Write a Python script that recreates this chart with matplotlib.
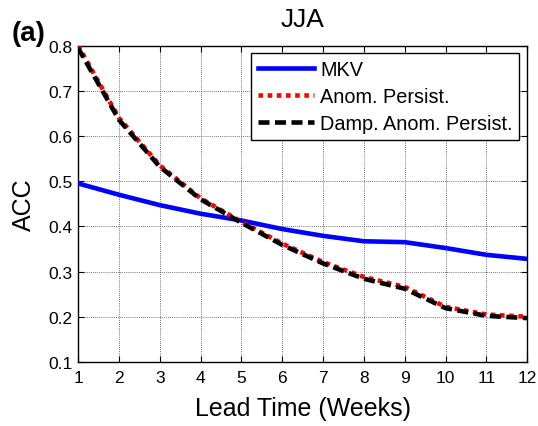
import matplotlib
matplotlib.use('Agg')
import matplotlib.pyplot as plt

plt.rcParams['font.family'] = ['Liberation Sans', 'DejaVu Sans']

lead = [1, 2, 3, 4, 5, 6, 7, 8, 9, 10, 11, 12]
mkv = [0.495, 0.470, 0.447, 0.428, 0.413, 0.394, 0.379, 0.367, 0.365, 0.352, 0.337, 0.328]
anom = [0.800, 0.640, 0.535, 0.462, 0.410, 0.362, 0.321, 0.288, 0.266, 0.222, 0.205, 0.200]
damp = [0.795, 0.636, 0.532, 0.460, 0.408, 0.359, 0.318, 0.284, 0.262, 0.219, 0.202, 0.197]

fig = plt.figure(figsize=(5.38, 4.27), dpi=100)
ax = fig.add_axes((0.145, 0.150, 0.835, 0.741))

ax.plot(lead, mkv, color='#0000ff', lw=3.3, label='MKV', zorder=3)
ax.plot(lead, anom, color='#ff0000', lw=3.3, ls=(0, (1, 1)), label='Anom. Persist.', zorder=3)
ax.plot(lead, damp, color='black', lw=3.3, ls=(0, (2.4, 1.2)), label='Damp. Anom. Persist.', zorder=4)

ax.set_xlim(1, 12)
ax.set_ylim(0.1, 0.8)
ax.set_xticks(lead)
ax.set_yticks([0.1, 0.2, 0.3, 0.4, 0.5, 0.6, 0.7, 0.8])
ax.set_yticklabels(['0.1', '0.2', '0.3', '0.4', '0.5', '0.6', '0.7', '0.8'])
ax.tick_params(direction='in', labelsize=12.5, top=True, right=True, length=4, pad=4)
ax.tick_params(axis='x', pad=6)
ax.grid(True, color='#444444', ls=(0, (1, 1.5)), lw=0.6)
for s in ax.spines.values():
    s.set_linewidth(1.0)

ax.set_xlabel('Lead Time (Weeks)', fontsize=18, labelpad=8)
ax.set_ylabel('ACC', fontsize=18, labelpad=9)
ax.set_title('JJA', fontsize=19, pad=14)
fig.text(0.022, 0.905, '(a)', fontsize=20, fontweight='bold')

leg = ax.legend(loc='upper right', bbox_to_anchor=(0.9825, 0.975), fontsize=14.3,
                handlelength=2.8, handletextpad=0.3, borderpad=0.35,
                labelspacing=0.4, fancybox=False, framealpha=1,
                edgecolor='black', borderaxespad=0)
leg.get_frame().set_linewidth(1.0)

fig.savefig('out.png', dpi=100)
